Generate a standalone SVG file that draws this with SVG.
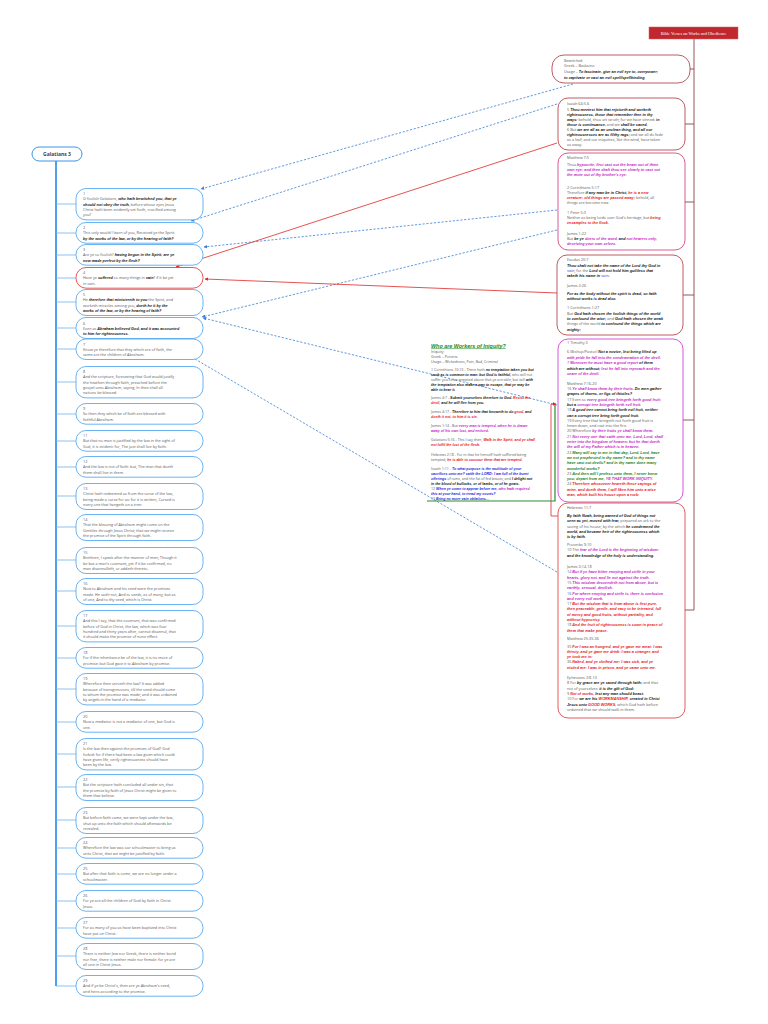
<svg xmlns="http://www.w3.org/2000/svg" width="768" height="1024" viewBox="0 0 768 1024">
<defs>
<style>
.t{font-family:"Open Sans","Liberation Sans",sans-serif;font-size:3.8px;fill:#5a5a5a}
.s{font-size:3.6px}
.b,.m,.r,.u,.g{font-family:"Liberation Sans",Arial,sans-serif;font-weight:bold;font-style:italic}
.b{fill:#141414}.m{fill:#c81fc8}.r{fill:#e8161c}.u{fill:#1f1fe0}.g{fill:#1a7f1a}
.v{fill:#2233ee}
.hd{font-family:"Liberation Sans",Arial,sans-serif;font-weight:bold;font-style:italic;font-size:5.4px;fill:#1d8a1d;text-decoration:underline}
.nl{fill:#fff;stroke:#5aaaf0;stroke-width:0.9}
.n4{fill:#fff;stroke:#e04545;stroke-width:0.9}
.nd{fill:#fff;stroke:#b84a50;stroke-width:0.9}
.np{fill:#fff;stroke:#d24a86;stroke-width:0.9}
.nm{fill:#fff;stroke:#cf45cf;stroke-width:0.9}
.nh{fill:#fff;stroke:#e04a4a;stroke-width:0.9}
.br{stroke:#6ab4f0;stroke-width:0.8;fill:none}
.rb{stroke:#8a4545;stroke-width:0.9;fill:none}
.dash{stroke:#3a7fd5;stroke-width:0.8;stroke-dasharray:2.2,1.6;fill:none}
.red{stroke:#e02626;stroke-width:0.8;fill:none}
</style>
<marker id="ab" viewBox="0 0 6 6" refX="5.5" refY="3" markerWidth="4.5" markerHeight="4.5" orient="auto"><path d="M0,0 L6,3 L0,6 z" fill="#3a7fd5"/></marker>
<marker id="ar" viewBox="0 0 6 6" refX="5.5" refY="3" markerWidth="4.5" markerHeight="4.5" orient="auto"><path d="M0,0 L6,3 L0,6 z" fill="#e02626"/></marker>
</defs>
<rect width="768" height="1024" fill="#fff"/>

<g id="trees">
<path class="rb" d="M694,39 V610 M690,69 H694 M685,124 H694 M685,202 H694 M683,295 H694 M683,420 H694 M685,610 H694"/>
<path d="M56,161 V986" stroke="#1e8ae6" stroke-width="1.6" fill="none"/>
<path class="br" d="M56,204 H76 M56,233 H76 M56,255 H76 M56,278 H76 M56,302 H76 M56,328 H76 M56,349 H76 M56,382 H76 M56,414 H76 M56,441 H76 M56,467 H76 M56,496 H76 M56,527 H76 M56,560 H76 M56,591 H76 M56,626 H76 M56,658 H76 M56,689 H76 M56,722 H76 M56,754 H76 M56,787 H76 M56,820 H76 M56,848 H76 M56,874 H76 M56,901 H76 M56,928 H76 M56,956 H76 M56,986 H76"/>
</g>

<g id="connectors">
<path class="dash" d="M573,84 L201,189" marker-end="url(#ab)"/>
<path class="dash" d="M557,104 L191,221" marker-end="url(#ab)"/>
<path class="dash" d="M557,210 L204,247" marker-end="url(#ab)"/>
<path class="dash" d="M557,230 L202,317" marker-end="url(#ab)"/>
<path class="dash" d="M557,405 L203,318" marker-end="url(#ab)"/>
<path class="dash" d="M557,572 L161,339" marker-end="url(#ab)"/>
<path class="red" d="M557,143 L176,267" marker-end="url(#ar)"/>
<path class="red" d="M557,293 L205,279" marker-end="url(#ar)"/>
<path class="red" d="M558,516 L551,516 L551,404 L556,404" marker-end="url(#ar)"/>
<path d="M427,501 H555 V405" stroke="#2e8b2e" stroke-width="1.2" fill="none"/>
</g>

<g id="title">
<rect x="649" y="27" width="89" height="12" fill="#c0282e" stroke="#d86060" stroke-width="0.5"/>
<text x="693.5" y="34.8" text-anchor="middle" font-family="Liberation Serif,serif" font-size="4.3" fill="#fff">Bible Verses on Works and Obedience</text>
</g>

<g id="galatians3">
<rect x="32" y="147" width="50" height="14" rx="7" fill="#fff" stroke="#3a96e6" stroke-width="1"/>
<text x="57" y="156.2" text-anchor="middle" font-family="Open Sans,Liberation Sans,sans-serif" font-weight="bold" font-size="5" fill="#33445a">Galatians 3</text>
</g>

<g id="n1"><rect class="nl" x="76" y="188.5" width="127" height="31.4" rx="10"/>
<text class="t" x="83" y="195">1</text>
<text class="t" x="83" y="200.35">O foolish Galatians, <tspan class="b">who hath bewitched you, that ye</tspan></text>
<text class="t" x="83" y="205.7"><tspan class="b">should not obey the truth,</tspan> before whose eyes Jesus</text>
<text class="t" x="83" y="211.05">Christ hath been evidently set forth, crucified among</text>
<text class="t" x="83" y="216.4">you?</text></g>

<g id="n2"><rect class="nl" x="76" y="222.5" width="127" height="20.7" rx="10"/>
<text class="t" x="83" y="229">2</text>
<text class="t" x="83" y="234.35">This only would I learn of you, Received ye the Spirit</text>
<text class="t" x="83" y="239.7"><tspan class="b">by the works of the law, or by the hearing of faith?</tspan></text></g>

<g id="n3"><rect class="nl" x="76" y="244.5" width="127" height="20.7" rx="10"/>
<text class="t" x="83" y="251">3</text>
<text class="t" x="83" y="256.35">Are ye so foolish? <tspan class="b">having begun in the Spirit, are ye</tspan></text>
<text class="t" x="83" y="261.7"><tspan class="b">now made perfect by the flesh?</tspan></text></g>

<g id="n4"><rect class="n4" x="76" y="267.5" width="127" height="20.7" rx="10"/>
<text class="t" x="83" y="274">4</text>
<text class="t" x="83" y="279.35">Have ye <tspan class="b">suffered</tspan> so many things in <tspan class="b">vain</tspan>? if it be yet</text>
<text class="t" x="83" y="284.7">in vain.</text></g>

<g id="n5"><rect class="nl" x="76" y="289.5" width="127" height="26" rx="10"/>
<text class="t" x="83" y="296">5</text>
<text class="t" x="83" y="301.35">He <tspan class="b">therefore that ministereth to you</tspan> the Spirit, and</text>
<text class="t" x="83" y="306.7">worketh miracles among you, <tspan class="b">doeth he it by the</tspan></text>
<text class="t" x="83" y="312.05"><tspan class="b">works of the law, or by the hearing of faith?</tspan></text></g>

<g id="n6"><rect class="nl" x="76" y="317.5" width="127" height="21" rx="10"/>
<text class="t" x="83" y="324.5">6</text>
<text class="t" x="83" y="329.85">Even as <tspan class="b">Abraham believed God, and it was accounted</tspan></text>
<text class="t" x="83" y="335.2"><tspan class="b">to him for righteousness.</tspan></text></g>

<g id="n7"><rect class="nl" x="76" y="339" width="127" height="20.5" rx="10"/>
<text class="t" x="83" y="345.5">7</text>
<text class="t" x="83" y="350.85">Know ye therefore that they which are of faith, the</text>
<text class="t" x="83" y="356.2">same are the children of Abraham.</text></g>

<g id="n8"><rect class="nl" x="76" y="366.5" width="127" height="31.4" rx="10"/>
<text class="t" x="83" y="373">8</text>
<text class="t" x="83" y="378.35">And the scripture, foreseeing that God would justify</text>
<text class="t" x="83" y="383.7">the heathen through faith, preached before the</text>
<text class="t" x="83" y="389.05">gospel unto Abraham, saying, In thee shall all</text>
<text class="t" x="83" y="394.4">nations be blessed.</text></g>

<g id="n9"><rect class="nl" x="76" y="403.5" width="127" height="20.7" rx="10"/>
<text class="t" x="83" y="410">9</text>
<text class="t" x="83" y="415.35">So then they which be of faith are blessed with</text>
<text class="t" x="83" y="420.7">faithful Abraham.</text></g>

<g id="n11"><rect class="nl" x="76" y="430.5" width="127" height="20.7" rx="10"/>
<text class="t" x="83" y="437">11</text>
<text class="t" x="83" y="442.35">But that no man is justified by the law in the sight of</text>
<text class="t" x="83" y="447.7">God, it is evident: for, The just shall live by faith.</text></g>

<g id="n12"><rect class="nl" x="76" y="456.5" width="127" height="20.7" rx="10"/>
<text class="t" x="83" y="463">12</text>
<text class="t" x="83" y="468.35">And the law is not of faith: but, The man that doeth</text>
<text class="t" x="83" y="473.7">them shall live in them.</text></g>

<g id="n13"><rect class="nl" x="76" y="483.5" width="127" height="26" rx="10"/>
<text class="t" x="83" y="490">13</text>
<text class="t" x="83" y="495.35">Christ hath redeemed us from the curse of the law,</text>
<text class="t" x="83" y="500.7">being made a curse for us: for it is written, Cursed is</text>
<text class="t" x="83" y="506.05">every one that hangeth on a tree:</text></g>

<g id="n14"><rect class="nl" x="76" y="514.5" width="127" height="26" rx="10"/>
<text class="t" x="83" y="521">14</text>
<text class="t" x="83" y="526.35">That the blessing of Abraham might come on the</text>
<text class="t" x="83" y="531.7">Gentiles through Jesus Christ; that we might receive</text>
<text class="t" x="83" y="537.05">the promise of the Spirit through faith.</text></g>

<g id="n15"><rect class="nl" x="76" y="547.5" width="127" height="26" rx="10"/>
<text class="t" x="83" y="554">15</text>
<text class="t" x="83" y="559.35">Brethren, I speak after the manner of men; Though it</text>
<text class="t" x="83" y="564.7">be but a man's covenant, yet if it be confirmed, no</text>
<text class="t" x="83" y="570.05">man disannulleth, or addeth thereto.</text></g>

<g id="n16"><rect class="nl" x="76" y="578.5" width="127" height="26" rx="10"/>
<text class="t" x="83" y="585">16</text>
<text class="t" x="83" y="590.35">Now to Abraham and his seed were the promises</text>
<text class="t" x="83" y="595.7">made. He saith not, And to seeds, as of many; but as</text>
<text class="t" x="83" y="601.05">of one, And to thy seed, which is Christ.</text></g>

<g id="n17"><rect class="nl" x="76" y="610.5" width="127" height="31.4" rx="10"/>
<text class="t" x="83" y="617">17</text>
<text class="t" x="83" y="622.35">And this I say, that the covenant, that was confirmed</text>
<text class="t" x="83" y="627.7">before of God in Christ, the law, which was four</text>
<text class="t" x="83" y="633.05">hundred and thirty years after, cannot disannul, that</text>
<text class="t" x="83" y="638.4">it should make the promise of none effect.</text></g>

<g id="n18"><rect class="nl" x="76" y="647.5" width="127" height="20.7" rx="10"/>
<text class="t" x="83" y="654">18</text>
<text class="t" x="83" y="659.35">For if the inheritance be of the law, it is no more of</text>
<text class="t" x="83" y="664.7">promise: but God gave it to Abraham by promise.</text></g>

<g id="n19"><rect class="nl" x="76" y="673.5" width="127" height="31.4" rx="10"/>
<text class="t" x="83" y="680">19</text>
<text class="t" x="83" y="685.35">Wherefore then serveth the law? It was added</text>
<text class="t" x="83" y="690.7">because of transgressions, till the seed should come</text>
<text class="t" x="83" y="696.05">to whom the promise was made; and it was ordained</text>
<text class="t" x="83" y="701.4">by angels in the hand of a mediator.</text></g>

<g id="n20"><rect class="nl" x="76" y="711.5" width="127" height="20.7" rx="10"/>
<text class="t" x="83" y="718">20</text>
<text class="t" x="83" y="723.35">Now a mediator is not a mediator of one, but God is</text>
<text class="t" x="83" y="728.7">one.</text></g>

<g id="n21"><rect class="nl" x="76" y="738.5" width="127" height="31.4" rx="10"/>
<text class="t" x="83" y="745">21</text>
<text class="t" x="83" y="750.35">Is the law then against the promises of God? God</text>
<text class="t" x="83" y="755.7">forbid: for if there had been a law given which could</text>
<text class="t" x="83" y="761.05">have given life, verily righteousness should have</text>
<text class="t" x="83" y="766.4">been by the law.</text></g>

<g id="n22"><rect class="nl" x="76" y="774.5" width="127" height="26" rx="10"/>
<text class="t" x="83" y="781">22</text>
<text class="t" x="83" y="786.35">But the scripture hath concluded all under sin, that</text>
<text class="t" x="83" y="791.7">the promise by faith of Jesus Christ might be given to</text>
<text class="t" x="83" y="797.05">them that believe.</text></g>

<g id="n23"><rect class="nl" x="76" y="807.5" width="127" height="26" rx="10"/>
<text class="t" x="83" y="814">23</text>
<text class="t" x="83" y="819.35">But before faith came, we were kept under the law,</text>
<text class="t" x="83" y="824.7">shut up unto the faith which should afterwards be</text>
<text class="t" x="83" y="830.05">revealed.</text></g>

<g id="n24"><rect class="nl" x="76" y="837.5" width="127" height="20.7" rx="10"/>
<text class="t" x="83" y="844">24</text>
<text class="t" x="83" y="849.35">Wherefore the law was our schoolmaster to bring us</text>
<text class="t" x="83" y="854.7">unto Christ, that we might be justified by faith.</text></g>

<g id="n25"><rect class="nl" x="76" y="863.5" width="127" height="20.7" rx="10"/>
<text class="t" x="83" y="870">25</text>
<text class="t" x="83" y="875.35">But after that faith is come, we are no longer under a</text>
<text class="t" x="83" y="880.7">schoolmaster.</text></g>

<g id="n26"><rect class="nl" x="76" y="890.5" width="127" height="20.7" rx="10"/>
<text class="t" x="83" y="897">26</text>
<text class="t" x="83" y="902.35">For ye are all the children of God by faith in Christ</text>
<text class="t" x="83" y="907.7">Jesus.</text></g>

<g id="n27"><rect class="nl" x="76" y="917.5" width="127" height="20.7" rx="10"/>
<text class="t" x="83" y="924">27</text>
<text class="t" x="83" y="929.35">For as many of you as have been baptized into Christ</text>
<text class="t" x="83" y="934.7">have put on Christ.</text></g>

<g id="n28"><rect class="nl" x="76" y="943.5" width="127" height="26" rx="10"/>
<text class="t" x="83" y="950">28</text>
<text class="t" x="83" y="955.35">There is neither Jew nor Greek, there is neither bond</text>
<text class="t" x="83" y="960.7">nor free, there is neither male nor female: for ye are</text>
<text class="t" x="83" y="966.05">all one in Christ Jesus.</text></g>

<g id="n29"><rect class="nl" x="76" y="975.5" width="127" height="20.7" rx="10"/>
<text class="t" x="83" y="982">29</text>
<text class="t" x="83" y="987.35">And if ye be Christ's, then are ye Abraham's seed,</text>
<text class="t" x="83" y="992.7">and heirs according to the promise.</text></g>

<g id="bewitched"><rect class="nd" x="552" y="55" width="138" height="28" rx="12"/>
<text class="t" x="564" y="61.5">Bewitched</text>
<text class="t" x="564" y="67">Greek – Baskaino</text>
<text class="t" x="564" y="73">Usage – <tspan class="b">To fascinate, give an evil eye to, overpower;</tspan></text>
<text class="t" x="564" y="78.5"><tspan class="b">to captivate or cast an evil spell/spellbinding</tspan></text></g>

<g id="isaiah"><rect class="nd" x="558" y="98" width="127" height="52" rx="10"/>
<text class="t" x="567" y="105">Isaiah 64:5-6</text>
<text class="t" x="567" y="111">5 <tspan class="b">Thou meetest him that rejoiceth and worketh</tspan></text>
<text class="t" x="567" y="116"><tspan class="b">righteousness, those that remember thee in thy</tspan></text>
<text class="t" x="567" y="121"><tspan class="b">ways:</tspan> behold, thou art wroth; for we have sinned: <tspan class="b">in</tspan></text>
<text class="t" x="567" y="126"><tspan class="b">those is continuance,</tspan> and we <tspan class="b">shall be saved.</tspan></text>
<text class="t" x="567" y="131">6 But <tspan class="b">we are all as an unclean thing, and all our</tspan></text>
<text class="t" x="567" y="136"><tspan class="b">righteousnesses are as filthy rags;</tspan> and we all do fade</text>
<text class="t" x="567" y="141">as a leaf; and our iniquities, like the wind, have taken</text>
<text class="t" x="567" y="146">us away.</text></g>

<g id="matthew"><rect class="np" x="558" y="153" width="127" height="97" rx="10"/>
<text class="t" x="567" y="159">Matthew 7:5</text>
<text class="t" x="567" y="166">Thou <tspan class="m">hypocrite, first cast out the beam out of thine</tspan></text>
<text class="t" x="567" y="171"><tspan class="m">own eye; and then shalt thou see clearly to cast out</tspan></text>
<text class="t" x="567" y="176"><tspan class="m">the mote out of thy brother's eye.</tspan></text>
<text class="t" x="567" y="188.5">2 Corinthians 5:17</text>
<text class="t" x="567" y="193.5">Therefore <tspan class="b">if any man be in Christ,</tspan> <tspan class="r">he is a new</tspan></text>
<text class="t" x="567" y="198.5"><tspan class="r">creature: old things are passed away;</tspan> behold, all</text>
<text class="t" x="567" y="203.5">things are become new.</text>
<text class="t" x="567" y="213.5">1 Peter 5:3</text>
<text class="t" x="567" y="218.5">Neither as being lords over God's heritage, but <tspan class="r">being</tspan></text>
<text class="t" x="567" y="223.5"><tspan class="r">ensamples to the flock.</tspan></text>
<text class="t" x="567" y="235">James 1:22</text>
<text class="t" x="567" y="240">But <tspan class="b">be ye </tspan><tspan class="m">doers of the word,</tspan> <tspan class="b">and</tspan> <tspan class="m">not hearers only,</tspan></text>
<text class="t" x="567" y="245"><tspan class="m">deceiving your own selves.</tspan></text></g>

<g id="exodus"><rect class="nd" x="557" y="255" width="126" height="80" rx="10"/>
<text class="t" x="567" y="260.5">Exodus 20:7</text>
<text class="t" x="567" y="267"><tspan class="b">Thou shalt not take the name of the Lord thy God in</tspan></text>
<text class="t" x="567" y="272"><tspan class="v">vain</tspan>; for the <tspan class="b">Lord will not hold him guiltless that</tspan></text>
<text class="t" x="567" y="277"><tspan class="b">taketh his name in </tspan><tspan class="v">vain</tspan><tspan class="b">.</tspan></text>
<text class="t" x="567" y="287">James 2:26</text>
<text class="t" x="567" y="294.7"><tspan class="b">For as the body without the spirit is dead, so faith</tspan></text>
<text class="t" x="567" y="299.7"><tspan class="b">without works is dead also.</tspan></text>
<text class="t" x="567" y="309.3">1 Corinthians 1:27</text>
<text class="t" x="567" y="315.3">But <tspan class="b">God hath chosen the foolish things of the world</tspan></text>
<text class="t" x="567" y="320.3"><tspan class="b">to confound the wise;</tspan> and <tspan class="b">God hath chosen the weak</tspan></text>
<text class="t" x="567" y="325.3">things of the world <tspan class="b">to confound the things which are</tspan></text>
<text class="t" x="567" y="331"><tspan class="b">mighty;</tspan></text></g>

<g id="timothy"><rect class="nm" x="558" y="339" width="125" height="163" rx="10"/>
<text class="t" x="567" y="344">1 Timothy 3</text>
<text class="t" x="567" y="353">6 (Bishop/Pastor) <tspan class="b">Not a novice, lest being lifted up</tspan></text>
<text class="t" x="567" y="358.5"><tspan class="m">with pride he fall into the condemnation of the devil.</tspan></text>
<text class="t" x="567" y="364">7 <tspan class="m">Moreover he must have a good report</tspan> <tspan class="b">of them</tspan></text>
<text class="t" x="567" y="369.5"><tspan class="b">which are without;</tspan> <tspan class="m">lest he fall into reproach and the</tspan></text>
<text class="t" x="567" y="375"><tspan class="m">snare of the devil.</tspan></text>
<text class="t" x="567" y="385">Matthew 7:16-20</text>
<text class="t" x="567" y="390">16 <tspan class="m">Ye shall know them by their fruits.</tspan> <tspan class="b">Do men gather</tspan></text>
<text class="t" x="567" y="395.3"><tspan class="b">grapes of thorns, or figs of thistles?</tspan></text>
<text class="t" x="567" y="400.6">17 Even so <tspan class="m">every good tree bringeth forth good fruit;</tspan></text>
<text class="t" x="567" y="405.9"><tspan class="b">but a </tspan><tspan class="m">corrupt tree bringeth forth evil fruit.</tspan></text>
<text class="t" x="567" y="411.2">18 <tspan class="b">A good tree cannot bring forth evil fruit, neither</tspan></text>
<text class="t" x="567" y="416.5"><tspan class="b">can a corrupt tree bring forth good fruit.</tspan></text>
<text class="t" x="567" y="421.8">19 Every tree that bringeth not forth good fruit is</text>
<text class="t" x="567" y="427.1">hewn down, and cast into the fire.</text>
<text class="t" x="567" y="432.4">20 Wherefore <tspan class="m">by their fruits ye shall know them.</tspan></text>
<text class="t" x="567" y="437.7">21 <tspan class="m">Not every one that saith unto me, Lord, Lord, shall</tspan></text>
<text class="t" x="567" y="443"><tspan class="m">enter into the kingdom of heaven; but he that doeth</tspan></text>
<text class="t" x="567" y="448.3"><tspan class="m">the will of my Father which is in heaven.</tspan></text>
<text class="t" x="567" y="453.6">22 <tspan class="g">Many will say to me in that day, Lord, Lord, have</tspan></text>
<text class="t" x="567" y="458.9"><tspan class="g">we not prophesied in thy name? and in thy name</tspan></text>
<text class="t" x="567" y="464.2"><tspan class="g">have cast out devils? and in thy name done many</tspan></text>
<text class="t" x="567" y="469.5"><tspan class="g">wonderful works?</tspan></text>
<text class="t" x="567" y="474.8">23 <tspan class="g">And then will I profess unto them, I never knew</tspan></text>
<text class="t" x="567" y="480.1"><tspan class="g">you: depart from me, </tspan><tspan class="m">YE THAT WORK INIQUITY.</tspan></text>
<text class="t" x="567" y="485.4">24 <tspan class="r">Therefore whosoever heareth these sayings of</tspan></text>
<text class="t" x="567" y="490.7"><tspan class="r">mine, and doeth them, I will liken him unto a wise</tspan></text>
<text class="t" x="567" y="496"><tspan class="r">man, which built his house upon a rock:</tspan></text></g>

<g id="hebrews"><rect class="nh" x="558" y="503" width="127" height="215" rx="10"/>
<text class="t" x="567" y="509">Hebrews 11:7</text>
<text class="t" x="567" y="517"><tspan class="b">By faith Noah, being warned of God of things not</tspan></text>
<text class="t" x="567" y="522.3"><tspan class="b">seen as yet, moved with fear,</tspan> prepared an ark to the</text>
<text class="t" x="567" y="527.6">saving of his house; by the which <tspan class="b">he condemned the</tspan></text>
<text class="t" x="567" y="532.9"><tspan class="b">world, and became heir of the righteousness which</tspan></text>
<text class="t" x="567" y="538.2"><tspan class="b">is by faith.</tspan></text>
<text class="t" x="567" y="546">Proverbs 9:10</text>
<text class="t" x="567" y="551.3">10 The <tspan class="m">fear of the Lord is the beginning of wisdom:</tspan></text>
<text class="t" x="567" y="556.6"><tspan class="b">and the knowledge of the holy is understanding.</tspan></text>
<text class="t" x="567" y="568">James 3:14-18</text>
<text class="t" x="567" y="573.3">14 <tspan class="m">But if ye have bitter envying and strife in your</tspan></text>
<text class="t" x="567" y="578.6"><tspan class="m">hearts, glory not, and lie not against the truth.</tspan></text>
<text class="t" x="567" y="583.9">15 <tspan class="m">This wisdom descendeth not from above, but is</tspan></text>
<text class="t" x="567" y="589.2"><tspan class="m">earthly, sensual, devilish.</tspan></text>
<text class="t" x="567" y="594.5">16 <tspan class="m">For where envying and strife is, there is confusion</tspan></text>
<text class="t" x="567" y="599.8"><tspan class="m">and every evil work.</tspan></text>
<text class="t" x="567" y="605.1">17 <tspan class="r">But the wisdom that is from above is first pure,</tspan></text>
<text class="t" x="567" y="610.4"><tspan class="r">then peaceable, gentle, and easy to be intreated, full</tspan></text>
<text class="t" x="567" y="615.7"><tspan class="r">of mercy and good fruits, without partiality, and</tspan></text>
<text class="t" x="567" y="621"><tspan class="r">without hypocrisy.</tspan></text>
<text class="t" x="567" y="626.3">18 <tspan class="r">And the fruit of righteousness is sown in peace of</tspan></text>
<text class="t" x="567" y="631.6"><tspan class="r">them that make peace.</tspan></text>
<text class="t" x="567" y="640">Matthew 25:35-36</text>
<text class="t" x="567" y="647.5">35 <tspan class="r">For I was an hungred, and ye gave me meat: I was</tspan></text>
<text class="t" x="567" y="652.8"><tspan class="r">thirsty, and ye gave me drink: I was a stranger, and</tspan></text>
<text class="t" x="567" y="658.1"><tspan class="r">ye took me in:</tspan></text>
<text class="t" x="567" y="663.4">36 <tspan class="r">Naked, and ye clothed me: I was sick, and ye</tspan></text>
<text class="t" x="567" y="668.7"><tspan class="r">visited me: I was in prison, and ye came unto me.</tspan></text>
<text class="t" x="567" y="679">Ephesians 2:8-10</text>
<text class="t" x="567" y="684.3">8 For <tspan class="b">by grace are ye saved through faith;</tspan> and that</text>
<text class="t" x="567" y="689.6">not of yourselves: <tspan class="b">it is the gift of God:</tspan></text>
<text class="t" x="567" y="694.9">9 <tspan class="r">Not of works,</tspan> <tspan class="b">lest any man should boast.</tspan></text>
<text class="t" x="567" y="700.2">10 For <tspan class="b">we are his </tspan><tspan class="r">WORKMANSHIP,</tspan> <tspan class="b">created in Christ</tspan></text>
<text class="t" x="567" y="705.5"><tspan class="b">Jesus unto </tspan><tspan class="r">GOOD WORKS,</tspan> which God hath before</text>
<text class="t" x="567" y="710.8">ordained that we should walk in them.</text></g>

<g id="iniquity">
<text class="hd" x="431" y="347.5">Who are Workers of Iniquity?</text>
<text class="t s" x="431" y="353">Iniquity</text>
<text class="t s" x="431" y="358">Greek – Poneria</text>
<text class="t s" x="431" y="363">Usage – Wickedness, Pain, Bad, Criminal</text>
<text class="t s" x="431" y="371">1 Corinthians 10:13 - There hath <tspan class="b">no temptation taken you but</tspan></text>
<text class="t s" x="431" y="376"><tspan class="b">such as is common to man: but God is faithful,</tspan> who will not</text>
<text class="t s" x="431" y="381">suffer you to be tempted above that ye are able; but will <tspan class="b">with</tspan></text>
<text class="t s" x="431" y="386"><tspan class="b">the temptation also make a way to escape, that ye may be</tspan></text>
<text class="t s" x="431" y="391"><tspan class="b">able to bear it.</tspan></text>
<text class="t s" x="431" y="399">James 4:7 - <tspan class="b">Submit yourselves therefore to God.</tspan> <tspan class="r">Resist the</tspan></text>
<text class="t s" x="431" y="404"><tspan class="r">devil,</tspan> <tspan class="b">and he will flee from you.</tspan></text>
<text class="t s" x="431" y="413">James 4:17 - <tspan class="b">Therefore to him that knoweth to do</tspan> <tspan class="r">good,</tspan> <tspan class="b">and</tspan></text>
<text class="t s" x="431" y="418"><tspan class="r">doeth it not, to him it is sin.</tspan></text>
<text class="t s" x="431" y="427">James 1:14 - But <tspan class="m">every man is tempted, when he is drawn</tspan></text>
<text class="t s" x="431" y="432"><tspan class="m">away of his own lust, and enticed.</tspan></text>
<text class="t s" x="431" y="441">Galatians 5:16 - This I say then, <tspan class="r">Walk in the Spirit, and ye shall</tspan></text>
<text class="t s" x="431" y="446"><tspan class="r">not fulfil the lust of the flesh.</tspan></text>
<text class="t s" x="431" y="456">Hebrews 2:18 - For in that he himself hath suffered being</text>
<text class="t s" x="431" y="461">tempted, <tspan class="r">he is able to succour them that are tempted.</tspan></text>
<text class="t s" x="431" y="470">Isaiah 1:11 - <tspan class="u">To what purpose is the multitude of your</tspan></text>
<text class="t s" x="431" y="475"><tspan class="u">sacrifices unto me? saith the LORD: I am full of the burnt</tspan></text>
<text class="t s" x="431" y="480"><tspan class="u">offerings</tspan> of rams, and the fat of fed beasts; and <tspan class="b">I delight not</tspan></text>
<text class="t s" x="431" y="485"><tspan class="b">in the blood of bullocks, or of lambs, or of he goats.</tspan></text>
<text class="t s" x="431" y="490">12 <tspan class="u">When ye come to appear before me,</tspan> <tspan class="m">who hath required</tspan></text>
<text class="t s" x="431" y="495"><tspan class="u">this at your hand, to tread my courts?</tspan></text>
<text class="t s" x="431" y="499.5">13 <tspan class="u">Bring no more vain oblations...</tspan></text>
</g>
</svg>
